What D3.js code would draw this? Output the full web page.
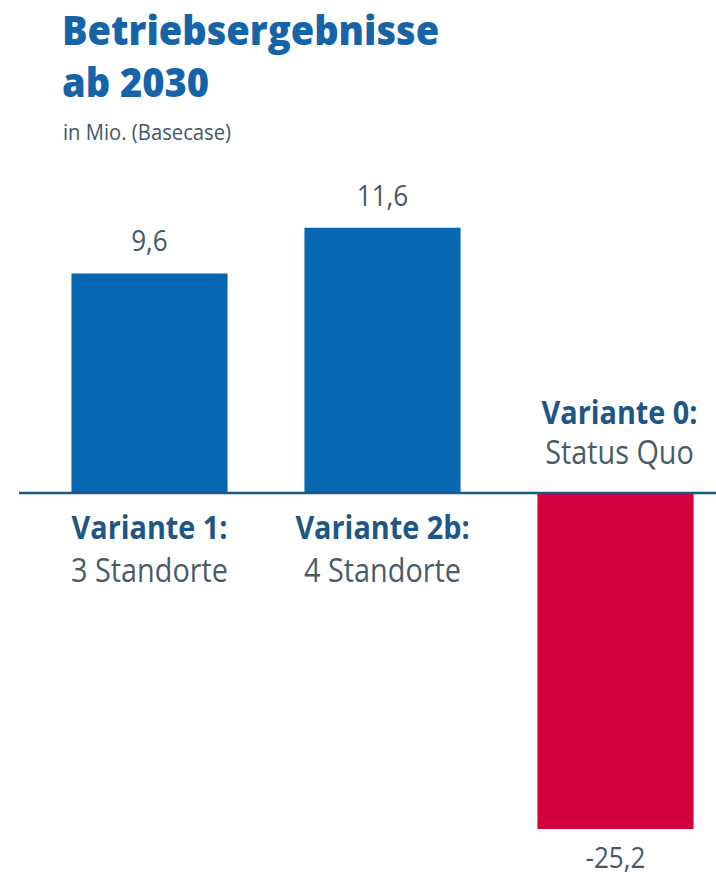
<!DOCTYPE html>
<html><head><meta charset="utf-8">
<script src="https://cdn.jsdelivr.net/npm/d3@7/dist/d3.min.js"></script>
<style>html,body{margin:0;padding:0;background:#fff;} svg{display:block;}</style>
</head><body>
<script>
const categories = ["Variante 1:", "Variante 2b:", "Variante 0:"];
const subLabels = ["3 Standorte", "4 Standorte", "Status Quo"];
const values = [9.6, 11.6, -25.2];
const valueLabels = ["9,6", "11,6", "-25,2"];
const title = ["Betriebsergebnisse", "ab 2030"];
const subtitle = "in Mio. (Basecase)";

const W = 716, H = 880;
const svg = d3.select("body").append("svg").attr("width", W).attr("height", H);
const font = "'Open Sans', 'DejaVu Sans', sans-serif";

// narrow a text horizontally (reference uses a condensed face)
function condense(sel, k) {
  sel.each(function () {
    const w = this.getComputedTextLength();
    d3.select(this).attr("textLength", w * k).attr("lengthAdjust", "spacingAndGlyphs");
  });
}

// title
svg.append("g").selectAll("text").data(title).join("text")
  .attr("x", 62).attr("y", (d, i) => 45 + i * 52)
  .attr("font-family", font).attr("font-weight", 800).attr("font-size", 40)
  .attr("fill", "#1664a8").text(d => d).call(condense, 0.95);
svg.append("text").attr("x", 63).attr("y", 140)
  .attr("font-family", font).attr("font-size", 22).attr("fill", "#3f5866").text(subtitle)
  .call(condense, 0.92);

const x = d3.scaleBand().domain(categories).range([33, 732]).paddingInner(0.33).paddingOuter(0.165);
// infographic uses different scaling above and below zero
const y = d3.scaleLinear().domain([-25.2, 0, 12]).range([829, 493, 218.6]);

const data = categories.map((c, i) => ({c, v: values[i], lab: valueLabels[i], sub: subLabels[i]}));

svg.append("g").selectAll("rect").data(data).join("rect")
  .attr("x", d => x(d.c)).attr("width", x.bandwidth())
  .attr("y", d => y(Math.max(0, d.v)))
  .attr("height", d => Math.abs(y(d.v) - y(0)))
  .attr("fill", d => d.v >= 0 ? "#0767b1" : "#d2003d");

// baseline
svg.append("line").attr("x1", 19).attr("x2", W).attr("y1", y(0)).attr("y2", y(0))
  .attr("stroke", "#1d5689").attr("stroke-width", 2.5);

// value labels
svg.append("g").selectAll("text").data(data).join("text")
  .attr("x", d => x(d.c) + x.bandwidth() / 2)
  .attr("y", d => d.v >= 0 ? y(d.v) - 22 : y(d.v) + 39)
  .attr("text-anchor", "middle").attr("font-family", font).attr("font-size", 29)
  .attr("fill", "#45596a").text(d => d.lab).call(condense, 0.9);

// category labels
const cat = svg.append("g").selectAll("g").data(data).join("g")
  .attr("transform", d => `translate(${x(d.c) + x.bandwidth() / 2 + (d.v < 0 ? 4 : 0)},${d.v >= 0 ? y(0) + 46 : y(0) - 69})`);
cat.append("text").attr("text-anchor", "middle").attr("font-family", font)
  .attr("font-weight", 700).attr("font-size", 32).attr("fill", "#1f5784").text(d => d.c)
  .call(condense, 0.9);
cat.append("text").attr("text-anchor", "middle").attr("y", d => d.v >= 0 ? 43 : 40).attr("font-family", font)
  .attr("font-size", 32).attr("fill", "#4a5b68").text(d => d.sub)
  .call(condense, 0.9);
</script>
</body></html>
